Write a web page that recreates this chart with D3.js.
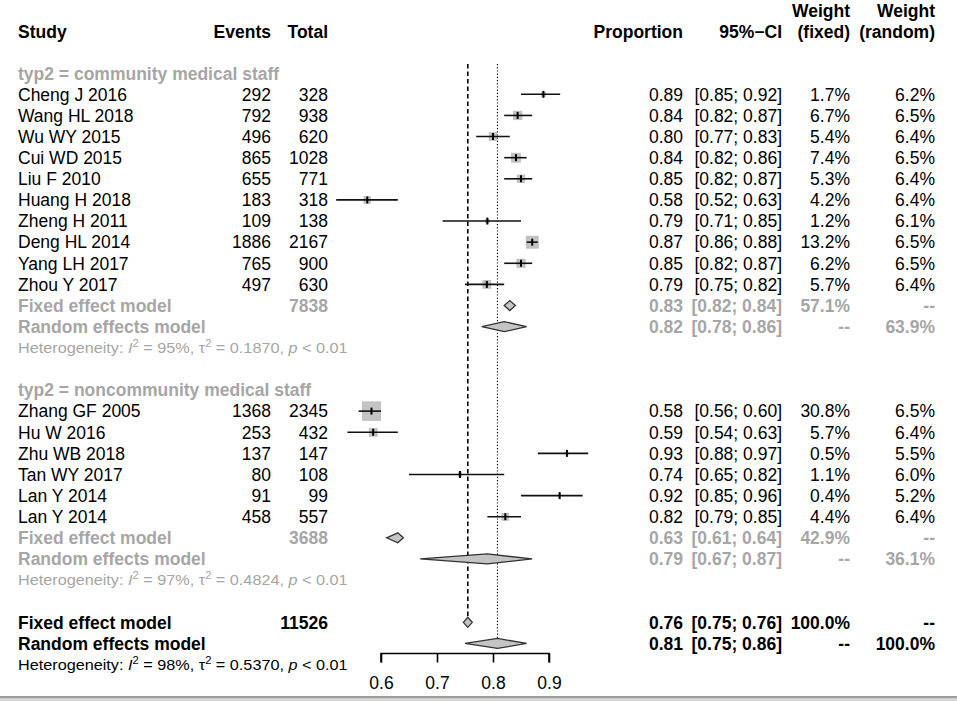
<!DOCTYPE html>
<html>
<head>
<meta charset="utf-8">
<script src="https://cdn.jsdelivr.net/npm/d3@7"></script>
<style>
  body { margin: 0; background: #fff; }
  text { font-family: "Liberation Sans", Arial, Helvetica, sans-serif; }
</style>
</head>
<body>
<div id="chart"></div>
<script>
// Study-level data
const studyNames = [
  'Cheng J 2016', 'Wang HL 2018', 'Wu WY 2015', 'Cui WD 2015', 'Liu F 2010',
  'Huang H 2018', 'Zheng H 2011', 'Deng HL 2014', 'Yang LH 2017', 'Zhou Y 2017',
  'Zhang GF 2005', 'Hu W 2016', 'Zhu WB 2018', 'Tan WY 2017', 'Lan Y 2014', 'Lan Y 2014'
];
const studyGroup = [0, 0, 0, 0, 0, 0, 0, 0, 0, 0, 1, 1, 1, 1, 1, 1];
const studyEvents = [292, 792, 496, 865, 655, 183, 109, 1886, 765, 497, 1368, 253, 137, 80, 91, 458];
const studyTotals = [328, 938, 620, 1028, 771, 318, 138, 2167, 900, 630, 2345, 432, 147, 108, 99, 557];
const studyProps = [0.890, 0.844, 0.800, 0.841, 0.850, 0.5755, 0.790, 0.870, 0.850, 0.789,
  0.583, 0.586, 0.932, 0.741, 0.919, 0.822];
const studyLower = [0.85, 0.82, 0.77, 0.82, 0.82, 0.52, 0.71, 0.86, 0.82, 0.75, 0.56, 0.54, 0.88, 0.65, 0.85, 0.79];
const studyUpper = [0.92, 0.87, 0.83, 0.86, 0.87, 0.63, 0.85, 0.88, 0.87, 0.82, 0.60, 0.63, 0.97, 0.82, 0.96, 0.85];
const studyWeightFixed = [1.7, 6.7, 5.4, 7.4, 5.3, 4.2, 1.2, 13.2, 6.2, 5.7, 30.8, 5.7, 0.5, 1.1, 0.4, 4.4];
const studyWeightRandom = [6.2, 6.5, 6.4, 6.5, 6.4, 6.4, 6.1, 6.5, 6.5, 6.4, 6.5, 6.4, 5.5, 6.0, 5.2, 6.4];

// Subgroup summaries
const groupLabels = ['typ2 = community medical staff', 'typ2 = noncommunity medical staff'];
const groupTotals = [7838, 3688];
const groupFixedEst = [0.83, 0.63];
const groupFixedLower = [0.82, 0.61];
const groupFixedUpper = [0.84, 0.64];
const groupFixedWeight = [57.1, 42.9];
const groupRandomEst = [0.82, 0.79];
const groupRandomLower = [0.78, 0.67];
const groupRandomUpper = [0.86, 0.87];
const groupRandomWeight = [63.9, 36.1];
const groupI2 = [95, 97];
const groupTau2 = ['0.1870', '0.4824'];

// Overall summaries
const overallTotal = 11526;
const overallFixed = [0.755, 0.747, 0.763];   // est, lower, upper
const overallRandom = [0.808, 0.75, 0.86];
const overallI2 = 98;
const overallTau2 = '0.5370';

const axisTicks = [0.6, 0.7, 0.8, 0.9];

// ---- layout ----
const width = 957;
const height = 701;
const fontSize = 17.5;
const gray = '#a6a6a6';

const svg = d3.select('#chart')
  .append('svg')
  .attr('width', width)
  .attr('height', height);

const x = d3.scaleLinear().domain([0.6, 0.9]).range([381, 549]);
const rowY = d3.scaleLinear().domain([0, 28]).range([73.2, 73.2 + 28 * 21.12]);

// column right edges
const col = { study: 18, events: 271, total: 328, prop: 683, ci: 782, wf: 850, wr: 935 };

const fmt2 = d3.format('.2f');
const fmtW = d => d == null ? '--' : d3.format('.1f')(d) + '%';
const ciText = (lo, hi) => `[${fmt2(lo)}; ${fmt2(hi)}]`;

// Build the row list
const rows = [];
let r = 0;
groupLabels.forEach((label, g) => {
  rows.push({ type: 'label', idx: r++, text: label, g, color: gray, bold: true });
  studyNames.forEach((name, i) => {
    if (studyGroup[i] !== g) return;
    rows.push({
      type: 'study', idx: r++, text: name, events: studyEvents[i], total: studyTotals[i],
      est: studyProps[i], lo: studyLower[i], hi: studyUpper[i],
      wf: studyWeightFixed[i], wr: studyWeightRandom[i]
    });
  });
  rows.push({
    type: 'fixed', idx: r++, text: 'Fixed effect model', total: groupTotals[g],
    est: groupFixedEst[g], lo: groupFixedLower[g], hi: groupFixedUpper[g],
    wf: groupFixedWeight[g], wr: null, color: gray, bold: true
  });
  rows.push({
    type: 'random', idx: r++, text: 'Random effects model',
    est: groupRandomEst[g], lo: groupRandomLower[g], hi: groupRandomUpper[g],
    wf: null, wr: groupRandomWeight[g], color: gray, bold: true
  });
  rows.push({ type: 'het', idx: r++, i2: groupI2[g], tau2: groupTau2[g], color: gray });
  r++; // blank row
});
rows.push({
  type: 'fixed', idx: r++, text: 'Fixed effect model', total: overallTotal,
  est: overallFixed[0], lo: overallFixed[1], hi: overallFixed[2],
  wf: 100, wr: null, color: '#000', bold: true, overall: true
});
rows.push({
  type: 'random', idx: r++, text: 'Random effects model',
  est: overallRandom[0], lo: overallRandom[1], hi: overallRandom[2],
  wf: null, wr: 100, color: '#000', bold: true, overall: true
});
rows.push({ type: 'het', idx: r++, i2: overallI2, tau2: overallTau2, color: '#000' });

const fixedRowY = rowY(rows.find(d => d.type === 'fixed' && d.overall).idx);
const randomRowY = rowY(rows.find(d => d.type === 'random' && d.overall).idx);

// ---- header ----
const header = svg.append('g')
  .attr('font-weight', 'bold')
  .attr('font-size', fontSize)
  .attr('fill', '#000');

const headerItems = [
  { t: 'Study', x: col.study, y: 37.5, a: 'start' },
  { t: 'Events', x: col.events, y: 37.5, a: 'end' },
  { t: 'Total', x: col.total, y: 37.5, a: 'end' },
  { t: 'Proportion', x: col.prop, y: 37.5, a: 'end' },
  { t: '95%\u2212CI', x: col.ci, y: 37.5, a: 'end' },
  { t: 'Weight', x: col.wf, y: 16.5, a: 'end' },
  { t: '(fixed)', x: col.wf, y: 37.5, a: 'end' },
  { t: 'Weight', x: col.wr, y: 16.5, a: 'end' },
  { t: '(random)', x: col.wr, y: 37.5, a: 'end' }
];
header.selectAll('text')
  .data(headerItems)
  .join('text')
  .attr('x', d => d.x)
  .attr('y', d => d.y)
  .attr('text-anchor', d => d.a)
  .text(d => d.t);

// ---- reference lines ----
svg.append('line')
  .attr('x1', x(overallFixed[0])).attr('x2', x(overallFixed[0]))
  .attr('y1', 64).attr('y2', fixedRowY)
  .attr('stroke', '#000').attr('stroke-width', 1.6)
  .attr('stroke-dasharray', '4.5,3');

svg.append('line')
  .attr('x1', x(overallRandom[0])).attr('x2', x(overallRandom[0]))
  .attr('y1', 64).attr('y2', randomRowY)
  .attr('stroke', '#000').attr('stroke-width', 1.1)
  .attr('stroke-dasharray', '1.2,2');

// ---- study marks ----
const studies = rows.filter(d => d.type === 'study');
const sqSide = d3.scaleSqrt().domain([0, 30.8]).range([0, 18.5]);

svg.append('g')
  .selectAll('rect')
  .data(studies)
  .join('rect')
  .attr('x', d => x(d.est) - sqSide(d.wf) / 2)
  .attr('y', d => rowY(d.idx) - sqSide(d.wf) / 2)
  .attr('width', d => sqSide(d.wf))
  .attr('height', d => sqSide(d.wf))
  .attr('fill', '#c4c4c4')
  .attr('stroke', '#b4b4b4')
  .attr('stroke-width', 0.6);

svg.append('g')
  .selectAll('line')
  .data(studies)
  .join('line')
  .attr('x1', d => x(d.lo))
  .attr('x2', d => x(d.hi))
  .attr('y1', d => rowY(d.idx))
  .attr('y2', d => rowY(d.idx))
  .attr('stroke', '#111')
  .attr('stroke-width', 1.6);

svg.append('g')
  .selectAll('line')
  .data(studies)
  .join('line')
  .attr('x1', d => x(d.est))
  .attr('x2', d => x(d.est))
  .attr('y1', d => rowY(d.idx) - 3.5)
  .attr('y2', d => rowY(d.idx) + 3.5)
  .attr('stroke', '#000')
  .attr('stroke-width', 2);

// ---- diamonds ----
const diamonds = rows.filter(d => d.type === 'fixed' || d.type === 'random');
svg.append('g')
  .selectAll('path')
  .data(diamonds)
  .join('path')
  .attr('d', d => {
    const y = rowY(d.idx);
    const h = 5;
    return `M${x(d.lo)},${y}L${x(d.est)},${y - h}L${x(d.hi)},${y}L${x(d.est)},${y + h}Z`;
  })
  .attr('fill', '#c4c4c4')
  .attr('stroke', '#333')
  .attr('stroke-width', 1.3);

// ---- text columns ----
const textRows = rows.filter(d => d.type !== 'het');
const tg = svg.append('g').attr('font-size', fontSize);

function addCol(accessor, xPos, anchor) {
  tg.append('g')
    .selectAll('text')
    .data(textRows.filter(d => accessor(d) != null))
    .join('text')
    .attr('x', xPos)
    .attr('y', d => rowY(d.idx))
    .attr('dy', '0.36em')
    .attr('text-anchor', anchor)
    .attr('fill', d => d.color || '#000')
    .attr('font-weight', d => d.bold ? 'bold' : 'normal')
    .text(accessor);
}

addCol(d => d.text, col.study, 'start');
addCol(d => d.type === 'study' ? d.events : null, col.events, 'end');
addCol(d => d.total != null ? d.total : null, col.total, 'end');
addCol(d => d.type === 'label' ? null : fmt2(d.est), col.prop, 'end');
addCol(d => d.type === 'label' ? null : ciText(d.lo, d.hi), col.ci, 'end');
addCol(d => d.type === 'label' ? null : fmtW(d.wf), col.wf, 'end');
addCol(d => d.type === 'label' ? null : fmtW(d.wr), col.wr, 'end');

// ---- heterogeneity lines ----
const hetSize = 14.5;
rows.filter(d => d.type === 'het').forEach(d => {
  const t = svg.append('text')
    .attr('transform', `translate(${col.study},${rowY(d.idx) + 5}) scale(1.12,1)`)
    .attr('font-size', hetSize)
    .attr('fill', d.color);
  t.append('tspan').text('Heterogeneity: ');
  t.append('tspan').attr('font-style', 'italic').text('I');
  t.append('tspan').attr('font-size', 10).attr('dy', -6).text('2');
  t.append('tspan').attr('dy', 6).text(` = ${d.i2}%, \u03c4`);
  t.append('tspan').attr('font-size', 10).attr('dy', -6).text('2');
  t.append('tspan').attr('dy', 6).text(` = ${d.tau2}, `);
  t.append('tspan').attr('font-style', 'italic').text('p');
  t.append('tspan').text(' < 0.01');
});

// ---- axis ----
const axisY = 653.5;
const axis = svg.append('g')
  .attr('transform', `translate(0,${axisY})`)
  .call(d3.axisBottom(x).tickValues(axisTicks).tickSize(9).tickPadding(14).tickFormat(d3.format('.1f')));
axis.select('.domain')
  .attr('d', `M${x(0.6)},9V0H${x(0.9)}V9`)
  .attr('stroke', '#000')
  .attr('stroke-width', 1.6);
axis.selectAll('.tick line').attr('stroke', '#000').attr('stroke-width', 1.6);
axis.selectAll('.tick text')
  .attr('font-size', fontSize)
  .attr('font-family', '"Liberation Sans", Arial, sans-serif')
  .attr('fill', '#000');

// ---- bottom frame line ----
svg.append('rect')
  .attr('x', 0).attr('y', 696).attr('width', width).attr('height', 2.5)
  .attr('fill', '#9a9a9a');
svg.append('rect')
  .attr('x', 0).attr('y', 698.5).attr('width', width).attr('height', 2.5)
  .attr('fill', '#d6d6d6');
</script>
</body>
</html>
